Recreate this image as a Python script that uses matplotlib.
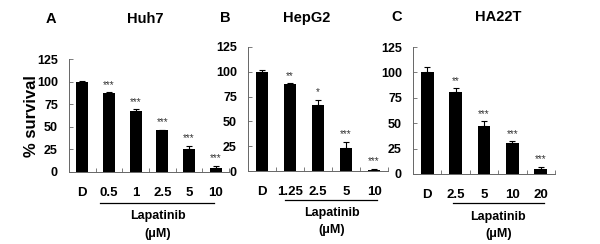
import numpy as np
import matplotlib.pyplot as plt
import matplotlib.transforms as mtransforms

plt.rcParams['font.family'] = ['Liberation Sans', 'DejaVu Sans']

# Huh7
huh7_labels = ["D", "0.5", "1", "2.5", "5", "10"]
huh7_vals = [100, 87, 67, 47, 25, 4]
huh7_err = [1, 1.5, 2.5, 0, 4, 3]
huh7_stars = ["", "***", "***", "***", "***", "***"]

# HepG2
hepg2_labels = ["D", "1.25", "2.5", "5", "10"]
hepg2_vals = [100, 88, 67, 23, 1.5]
hepg2_err = [2, 0.5, 5, 6.5, 0.5]
hepg2_stars = ["", "**", "*", "***", "***"]

# HA22T
ha22t_labels = ["D", "2.5", "5", "10", "20"]
ha22t_vals = [100, 81, 47, 31, 5]
ha22t_err = [5, 3.5, 5, 1, 2]
ha22t_stars = ["", "**", "***", "***", "***"]

W, H = 600, 244
fig = plt.figure(figsize=(6, 2.44), dpi=100)


def px_axes(left, right, bottom, top):
    return fig.add_axes([left / W, 1 - bottom / H, (right - left) / W, (bottom - top) / H])


panels = [
    (px_axes(69, 229, 172, 59), huh7_labels, huh7_vals, huh7_err, huh7_stars,
     (0.66, 4.94, -0.275), (2.83, -0.39, -0.55)),
    (px_axes(248, 388, 171, 47), hepg2_labels, hepg2_vals, hepg2_err, hepg2_stars,
     (0.82, 4.1, -0.235), (2.5, -0.335, -0.475)),
    (px_axes(413, 555, 174, 47), ha22t_labels, ha22t_vals, ha22t_err, ha22t_stars,
     (0.92, 4.12, -0.23), (2.5, -0.335, -0.475)),
]

for ax, labels, vals, err, stars, line, txt in panels:
    x = np.arange(len(vals))
    ax.bar(x, vals, width=0.45, color='black', zorder=2)
    ax.errorbar(x, vals, yerr=[np.zeros(len(err)), err], fmt='none',
                ecolor='black', elinewidth=0.8, capsize=2, capthick=0.8, zorder=3)
    for xi, v, e, s in zip(x, vals, err, stars):
        if s:
            ax.text(xi, v + e + 2.5, s, ha='center', va='bottom', fontsize=7,
                    color='#333333')
    ax.set_xlim(-0.5, len(vals) - 0.5)
    ax.set_ylim(0, 125)
    ax.set_yticks([0, 25, 50, 75, 100, 125])
    ax.set_xticks(x)
    ax.set_xticklabels(labels, fontsize=9.5, fontweight='bold')
    ax.set_xticks(np.arange(len(vals)) + 0.5, minor=True)
    for lab in ax.get_yticklabels():
        lab.set_fontweight('bold')
        lab.set_fontsize(9)
    ax.tick_params(axis='x', which='major', length=0, pad=11)
    ax.tick_params(axis='x', which='minor', direction='in', length=3,
                   width=0.6, color='#666666')
    ax.tick_params(axis='y', direction='in', length=3, width=0.6,
                   color='#666666', pad=8)
    for sp in ['top', 'right']:
        ax.spines[sp].set_visible(False)
    for sp in ['left', 'bottom']:
        ax.spines[sp].set_color('#666666')
        ax.spines[sp].set_linewidth(0.7)

    trans = mtransforms.blended_transform_factory(ax.transData, ax.transAxes)
    ax.plot([line[0], line[1]], [line[2], line[2]], color='black', lw=0.9,
            transform=trans, clip_on=False)
    ax.text(txt[0], txt[1], "Lapatinib", transform=trans, ha='center',
            va='center', fontsize=9, fontweight='bold')
    ax.text(txt[0], txt[2], "(\u03bcM)", transform=trans, ha='center',
            va='center', fontsize=9, fontweight='bold')

# panel letters and titles
for s, xp, yp in [("A", 51, 19), ("Huh7", 145, 19), ("B", 225, 18),
                  ("HepG2", 307, 18), ("C", 397, 17), ("HA22T", 498, 17)]:
    fig.text(xp / W, 1 - yp / H, s, ha='center', va='center', fontsize=10.5,
             fontweight='bold')

fig.text(31 / W, 1 - 116 / H, "% survival", rotation=90, ha='center',
         va='center', fontsize=12, fontweight='bold')

fig.savefig("out.png", dpi=100)
